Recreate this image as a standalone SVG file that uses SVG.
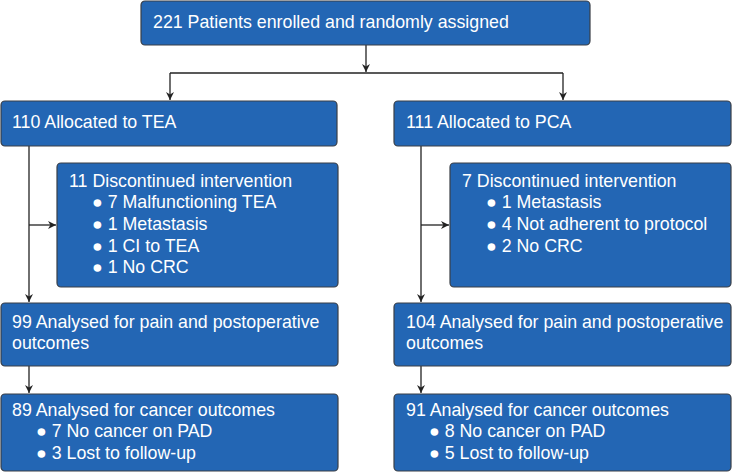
<svg xmlns="http://www.w3.org/2000/svg" width="732" height="473" viewBox="0 0 732 473">
<defs>
<style>
.box{fill:#2366b4;stroke:#3a3f47;stroke-width:1.2}
.t{font-family:"Liberation Sans",Arial,sans-serif;font-size:17.8px;fill:#ffffff}
.c{stroke:#222;stroke-width:1.3;fill:none}
</style>
<marker id="ah" viewBox="0 0 10 10" refX="10" refY="5" markerWidth="8" markerHeight="8" markerUnits="userSpaceOnUse" orient="auto">
<path d="M0,0 L10,5 L0,10 L3,5 z" fill="#222"/>
</marker>
</defs>
<g id="connectors">
<path class="c" d="M366,45 V72" marker-end="url(#ah)"/>
<path class="c" d="M170,73 H563"/>
<path class="c" d="M170,73 V100" marker-end="url(#ah)"/>
<path class="c" d="M563,73 V100" marker-end="url(#ah)"/>
<path class="c" d="M29,146 V302" marker-end="url(#ah)"/>
<path class="c" d="M29,225 H56" marker-end="url(#ah)"/>
<path class="c" d="M29,366 V393" marker-end="url(#ah)"/>
<path class="c" d="M421,146 V302" marker-end="url(#ah)"/>
<path class="c" d="M421,225 H449" marker-end="url(#ah)"/>
<path class="c" d="M421,366 V393" marker-end="url(#ah)"/>
</g>
<g id="enrolled">
<rect class="box" x="141" y="1" width="449" height="44" rx="4"/>
<text class="t" x="153" y="28">221 Patients enrolled and randomly assigned</text>
</g>
<g id="tea">
<rect class="box" x="1" y="101" width="336" height="45" rx="4"/>
<text class="t" x="12" y="128">110 Allocated to TEA</text>
</g>
<g id="pca">
<rect class="box" x="394" y="101" width="337" height="45" rx="4"/>
<text class="t" x="406" y="128">111 Allocated to PCA</text>
</g>
<g id="tea-discontinued">
<rect class="box" x="57" y="163" width="281" height="124" rx="4"/>
<text class="t" x="69" y="187">11 Discontinued intervention</text>
<text class="t" x="92" y="208">● 7 Malfunctioning TEA</text>
<text class="t" x="92" y="230">● 1 Metastasis</text>
<text class="t" x="92" y="252">● 1 CI to TEA</text>
<text class="t" x="92" y="273">● 1 No CRC</text>
</g>
<g id="pca-discontinued">
<rect class="box" x="450" y="163" width="281" height="124" rx="4"/>
<text class="t" x="462" y="187">7 Discontinued intervention</text>
<text class="t" x="486" y="208">● 1 Metastasis</text>
<text class="t" x="486" y="230">● 4 Not adherent to protocol</text>
<text class="t" x="486" y="252">● 2 No CRC</text>
</g>
<g id="tea-pain">
<rect class="box" x="1" y="303" width="337" height="63" rx="4"/>
<text class="t" x="12" y="328">99 Analysed for pain and postoperative</text>
<text class="t" x="12" y="349">outcomes</text>
</g>
<g id="pca-pain">
<rect class="box" x="394" y="303" width="337" height="63" rx="4"/>
<text class="t" x="406" y="328">104 Analysed for pain and postoperative</text>
<text class="t" x="406" y="349">outcomes</text>
</g>
<g id="tea-cancer">
<rect class="box" x="1" y="394" width="337" height="77" rx="4"/>
<text class="t" x="12" y="416">89 Analysed for cancer outcomes</text>
<text class="t" x="36" y="437">● 7 No cancer on PAD</text>
<text class="t" x="36" y="459">● 3 Lost to follow-up</text>
</g>
<g id="pca-cancer">
<rect class="box" x="394" y="394" width="337" height="77" rx="4"/>
<text class="t" x="406" y="416">91 Analysed for cancer outcomes</text>
<text class="t" x="429" y="437">● 8 No cancer on PAD</text>
<text class="t" x="429" y="459">● 5 Lost to follow-up</text>
</g>
</svg>
